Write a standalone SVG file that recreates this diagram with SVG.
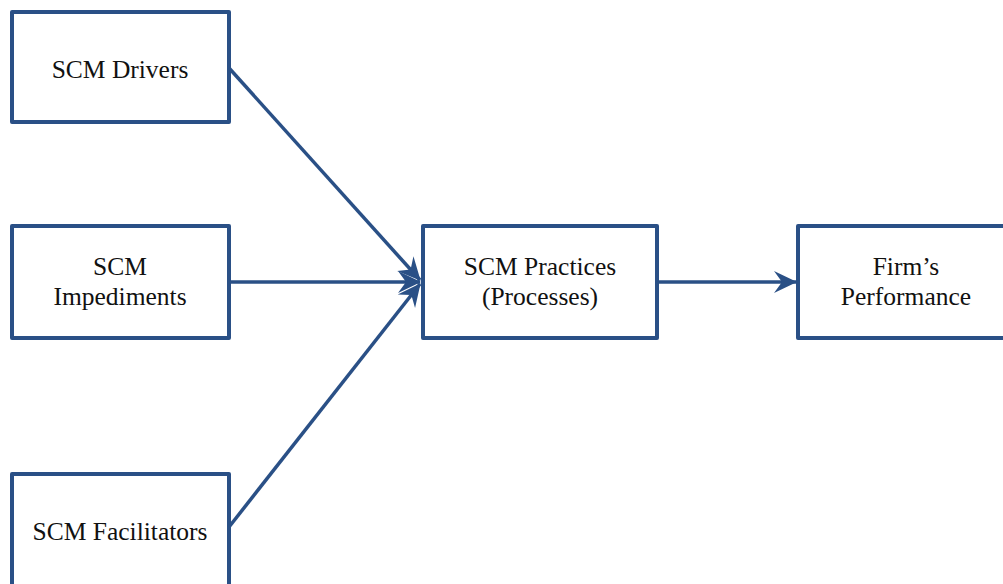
<svg xmlns="http://www.w3.org/2000/svg" width="1003" height="584" viewBox="0 0 1003 584">
<style>
.box{fill:#fff;stroke:#2a5086;stroke-width:4;stroke-linejoin:round}
.lbl{font-family:"Liberation Serif","Times New Roman",serif;font-size:25.5px;fill:#111;text-anchor:middle}
.conn{stroke:#2a5086;stroke-width:3.5;fill:none}
</style>
<defs>
<marker id="ah" markerUnits="userSpaceOnUse" viewBox="-24 -12 26 24" refX="0" refY="0" markerWidth="26" markerHeight="24" orient="auto">
<path d="M1,0 L-22,-11 L-14,0 L-22,11 Z" fill="#2a5086"/>
</marker>
</defs>
<rect width="1003" height="584" fill="#fff"/>
<g id="drivers"><rect class="box" x="12" y="12" width="217" height="110"/><text class="lbl" x="120" y="78">SCM Drivers</text></g>
<g id="impediments"><rect class="box" x="12" y="226" width="217" height="112"/><text class="lbl" x="120" y="275">SCM</text><text class="lbl" x="120" y="305">Impediments</text></g>
<g id="facilitators"><rect class="box" x="12" y="474" width="217" height="120"/><text class="lbl" x="120" y="540">SCM Facilitators</text></g>
<g id="practices"><rect class="box" x="423" y="226" width="234" height="112"/><text class="lbl" x="540" y="275">SCM Practices</text><text class="lbl" x="540" y="305">(Processes)</text></g>
<g id="performance"><rect class="box" x="798" y="226" width="216" height="112"/><text class="lbl" x="906" y="275">Firm’s</text><text class="lbl" x="906" y="305">Performance</text></g>
<g id="connectors">
<line class="conn" x1="229" y1="68" x2="420" y2="280" marker-end="url(#ah)"/>
<line class="conn" x1="229" y1="282" x2="420" y2="282" marker-end="url(#ah)"/>
<line class="conn" x1="229" y1="527" x2="420" y2="284" marker-end="url(#ah)"/>
<line class="conn" x1="657" y1="282" x2="796" y2="282" marker-end="url(#ah)"/>
</g>
</svg>
